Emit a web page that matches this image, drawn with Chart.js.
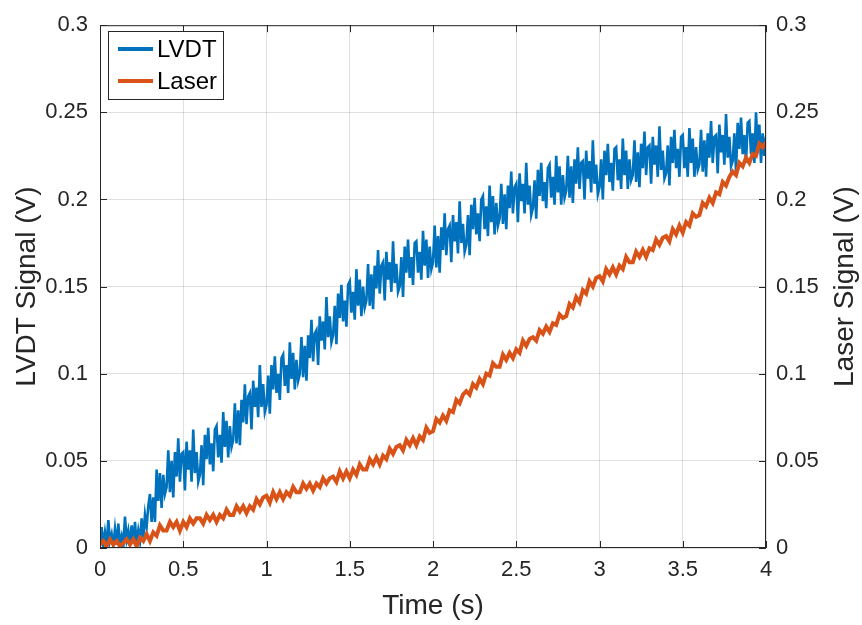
<!DOCTYPE html>
<html><head><meta charset="utf-8">
<script src="https://cdn.jsdelivr.net/npm/chart.js@4.4.0/dist/chart.umd.min.js"></script>
<style>html,body{margin:0;padding:0;background:#fff;overflow:hidden}#wrap{width:862px;height:625px}</style>
</head><body><div id="wrap"><canvas id="c" width="862" height="625"></canvas></div>
<script>
const seriesNames = ['LVDT', 'Laser'];
const xTickLabels = ['0','0.5','1','1.5','2','2.5','3','3.5','4'];
const yTickLabels = ['0','0.05','0.1','0.15','0.2','0.25','0.3'];
const xTitle = 'Time (s)';
const yLeftTitle = 'LVDT Signal (V)';
const yRightTitle = 'Laser Signal (V)';
const lvdtStep = 0.01;   // seconds between LVDT samples
const laserStep = 0.02;  // seconds between Laser samples

// LVDT signal (V), one row per 0.1 s
const lvdtSignal = [
0.003,0.012,0.001,0.009,0.002,0.016,0.004,0.008,0.001,0.011,
0.002,0.014,0.003,0.007,0.001,0.018,0.005,0.010,0.002,0.013,
0.003,0.015,0.002,0.010,0.004,0.017,0.006,0.019,0.012,0.024,
0.031,0.015,0.029,0.015,0.045,0.027,0.043,0.023,0.042,0.031,
0.035,0.056,0.032,0.050,0.029,0.055,0.041,0.063,0.038,0.054,
0.055,0.033,0.061,0.045,0.056,0.038,0.068,0.043,0.055,0.038,
0.042,0.059,0.036,0.065,0.051,0.069,0.048,0.060,0.044,0.068,
0.070,0.052,0.065,0.049,0.078,0.058,0.073,0.052,0.070,0.058,
0.062,0.083,0.060,0.079,0.059,0.085,0.072,0.094,0.071,0.087,
0.089,0.068,0.096,0.081,0.092,0.075,0.105,0.081,0.094,0.078,
0.082,0.099,0.077,0.105,0.091,0.110,0.089,0.100,0.085,0.109,
0.111,0.093,0.105,0.089,0.118,0.097,0.112,0.091,0.108,0.096,
0.100,0.121,0.098,0.116,0.096,0.122,0.109,0.131,0.107,0.123,
0.125,0.105,0.133,0.119,0.130,0.114,0.144,0.121,0.133,0.118,
0.122,0.139,0.117,0.146,0.132,0.151,0.130,0.142,0.127,0.151,
0.153,0.135,0.147,0.131,0.160,0.139,0.154,0.133,0.150,0.138,
0.142,0.163,0.139,0.157,0.137,0.162,0.149,0.171,0.146,0.162,
0.164,0.142,0.170,0.154,0.164,0.147,0.176,0.152,0.163,0.147,
0.150,0.167,0.144,0.173,0.158,0.177,0.155,0.167,0.151,0.175,
0.176,0.158,0.170,0.154,0.182,0.162,0.177,0.155,0.173,0.160,
0.164,0.185,0.161,0.179,0.158,0.184,0.171,0.192,0.168,0.183,
0.185,0.164,0.191,0.176,0.187,0.169,0.199,0.175,0.186,0.170,
0.174,0.191,0.168,0.197,0.183,0.201,0.180,0.192,0.176,0.200,
0.202,0.183,0.196,0.179,0.208,0.187,0.202,0.180,0.198,0.185,
0.189,0.209,0.186,0.203,0.183,0.208,0.195,0.216,0.192,0.207,
0.209,0.187,0.215,0.199,0.209,0.192,0.221,0.197,0.208,0.191,
0.195,0.211,0.189,0.217,0.202,0.221,0.199,0.210,0.195,0.218,
0.220,0.201,0.213,0.197,0.225,0.204,0.219,0.197,0.214,0.201,
0.205,0.225,0.201,0.219,0.198,0.223,0.209,0.230,0.206,0.221,
0.222,0.200,0.228,0.212,0.222,0.204,0.234,0.209,0.220,0.203,
0.207,0.223,0.200,0.228,0.214,0.232,0.210,0.221,0.205,0.229,
0.230,0.211,0.223,0.206,0.235,0.214,0.228,0.206,0.223,0.211,
0.214,0.234,0.210,0.227,0.207,0.232,0.218,0.239,0.214,0.230,
0.231,0.209,0.236,0.220,0.231,0.213,0.242,0.217,0.228,0.212,
0.215,0.231,0.208,0.236,0.221,0.240,0.218,0.229,0.213,0.236,
0.237,0.218,0.230,0.213,0.241,0.221,0.235,0.213,0.230,0.217,
0.220,0.240,0.216,0.234,0.213,0.238,0.224,0.245,0.221,0.236,
0.237,0.215,0.243,0.227,0.237,0.220,0.249,0.224,0.236,0.219,
0.222,0.238,0.216,0.244,0.229,0.247,0.226,0.237,0.221,0.244,
0.245,0.226,0.238,0.221,0.250,0.229,0.243,0.221,0.238,0.225,
0.236
];

// Laser signal (V), one row per 0.2 s
const laserSignal = [
0.002,0.004,0.001,0.005,0.002,0.004,0.001,0.003,0.005,0.002,
0.005,0.001,0.006,0.004,0.008,0.004,0.009,0.007,0.013,0.010,
0.010,0.015,0.012,0.015,0.010,0.015,0.012,0.017,0.014,0.017,
0.017,0.014,0.019,0.016,0.019,0.015,0.019,0.017,0.022,0.019,
0.019,0.024,0.021,0.024,0.020,0.024,0.022,0.028,0.025,0.029,
0.030,0.026,0.032,0.028,0.032,0.028,0.032,0.030,0.035,0.032,
0.032,0.037,0.034,0.037,0.033,0.037,0.035,0.040,0.037,0.040,
0.041,0.038,0.044,0.040,0.044,0.040,0.045,0.042,0.048,0.045,
0.045,0.051,0.048,0.052,0.048,0.053,0.051,0.057,0.054,0.058,
0.059,0.056,0.062,0.059,0.063,0.059,0.064,0.062,0.069,0.066,
0.067,0.074,0.072,0.076,0.073,0.079,0.078,0.085,0.083,0.088,
0.090,0.088,0.094,0.092,0.097,0.094,0.100,0.099,0.106,0.104,
0.104,0.111,0.108,0.112,0.109,0.114,0.112,0.119,0.116,0.120,
0.121,0.119,0.125,0.123,0.127,0.124,0.129,0.128,0.134,0.132,
0.133,0.140,0.138,0.144,0.141,0.148,0.146,0.153,0.150,0.155,
0.156,0.153,0.160,0.157,0.161,0.157,0.162,0.160,0.167,0.164,
0.164,0.170,0.167,0.171,0.167,0.172,0.171,0.177,0.174,0.178,
0.179,0.176,0.183,0.180,0.185,0.181,0.187,0.185,0.192,0.190,
0.191,0.198,0.196,0.201,0.198,0.204,0.203,0.210,0.208,0.213,
0.216,0.214,0.221,0.219,0.224,0.221,0.226,0.225,0.232,0.230,
0.233
];

const FONT = '"Liberation Sans", Arial, Helvetica, sans-serif';
const TEXT = '#262626';
const AXIS = '#262626';
const GRID = 'rgba(38,38,38,0.15)';
const BLUE = '#0072BD';
const ORANGE = '#D95319';

const lvdtPoints = lvdtSignal.map((v, i) => ({ x: +(i * lvdtStep).toFixed(2), y: v }));
const laserPoints = laserSignal.map((v, i) => ({ x: +(i * laserStep).toFixed(2), y: v }));

const tickFont = { family: FONT, size: 22 };
const titleFont = { family: FONT, size: 28 };

const framePlugin = {
  id: 'frame',
  afterDraw(chart) {
    const { ctx, chartArea: { left, right, top, bottom }, scales } = chart;
    ctx.save();
    ctx.strokeStyle = AXIS;
    ctx.lineWidth = 1;
    ctx.strokeRect(left + 0.5, top + 0.5, right - left - 1, bottom - top - 1);
    const L = 7;
    ctx.beginPath();
    scales.x.ticks.forEach(t => {
      const px = Math.round(scales.x.getPixelForValue(t.value)) + 0.5;
      ctx.moveTo(px, bottom); ctx.lineTo(px, bottom - L);
      ctx.moveTo(px, top); ctx.lineTo(px, top + L);
    });
    scales.y.ticks.forEach(t => {
      const py = Math.round(scales.y.getPixelForValue(t.value)) + 0.5;
      ctx.moveTo(left, py); ctx.lineTo(left + L, py);
    });
    scales.y1.ticks.forEach(t => {
      const py = Math.round(scales.y1.getPixelForValue(t.value)) + 0.5;
      ctx.moveTo(right, py); ctx.lineTo(right - L, py);
    });
    ctx.stroke();

    // right axis title (reads bottom-to-top)
    ctx.save();
    ctx.translate(845, (top + bottom) / 2);
    ctx.rotate(-Math.PI / 2);
    ctx.font = `${titleFont.size}px ${FONT}`;
    ctx.fillStyle = TEXT;
    ctx.textAlign = 'center';
    ctx.textBaseline = 'middle';
    ctx.fillText(yRightTitle, 0, 0);
    ctx.restore();

    // legend box
    const bx = 108, by = 31, bw = 115, bh = 68;
    ctx.fillStyle = '#ffffff';
    ctx.fillRect(bx, by, bw, bh);
    ctx.strokeStyle = AXIS;
    ctx.lineWidth = 1;
    ctx.strokeRect(bx + 0.5, by + 0.5, bw, bh);
    ctx.font = `24px ${FONT}`;
    ctx.textAlign = 'left';
    ctx.textBaseline = 'middle';
    chart.data.datasets.forEach((ds, i) => {
      const ly = by + 18 + i * 32;
      ctx.strokeStyle = ds.borderColor;
      ctx.lineWidth = 4;
      ctx.beginPath();
      ctx.moveTo(bx + 10, ly); ctx.lineTo(bx + 45, ly);
      ctx.stroke();
      ctx.fillStyle = '#000';
      ctx.fillText(ds.label, bx + 49, ly + 1);
    });
    ctx.restore();
  }
};

new Chart(document.getElementById('c'), {
  type: 'line',
  data: {
    datasets: [
      { label: seriesNames[0], data: lvdtPoints, yAxisID: 'y', borderColor: BLUE, borderWidth: 2.6, pointRadius: 0, tension: 0, borderJoinStyle: 'miter', order: 1 },
      { label: seriesNames[1], data: laserPoints, yAxisID: 'y1', borderColor: ORANGE, borderWidth: 4, pointRadius: 0, tension: 0, order: 0 }
    ]
  },
  options: {
    responsive: false,
    animation: false,
    devicePixelRatio: 1,
    layout: { padding: { top: 16, left: 0, right: 0, bottom: 0 } },
    plugins: { legend: { display: false }, tooltip: { enabled: false } },
    scales: {
      x: {
        type: 'linear', min: 0, max: 4,
        afterBuildTicks: s => { s.ticks = xTickLabels.map(l => ({ value: parseFloat(l) })); },
        afterFit: s => { s.height = 77; },
        ticks: { callback: (v, i) => xTickLabels[i], font: tickFont, color: TEXT, padding: 9, maxRotation: 0, autoSkip: false },
        grid: { color: GRID, drawTicks: false },
        border: { display: false },
        title: { display: true, text: xTitle, font: titleFont, color: TEXT, padding: { top: 0, bottom: 2 } }
      },
      y: {
        type: 'linear', position: 'left', min: 0, max: 0.3,
        afterBuildTicks: s => { s.ticks = yTickLabels.map(l => ({ value: parseFloat(l) })); },
        afterFit: s => { s.width = 100; },
        ticks: { callback: (v, i) => yTickLabels[i], font: tickFont, color: TEXT, padding: 12, autoSkip: false },
        grid: { color: GRID, drawTicks: false },
        border: { display: false },
        title: { display: true, text: yLeftTitle, font: titleFont, color: TEXT, padding: { top: 10, bottom: 0 } }
      },
      y1: {
        type: 'linear', position: 'right', min: 0, max: 0.3,
        afterBuildTicks: s => { s.ticks = yTickLabels.map(l => ({ value: parseFloat(l) })); },
        afterFit: s => { s.width = 96; },
        ticks: { callback: (v, i) => yTickLabels[i], font: tickFont, color: TEXT, padding: 10, autoSkip: false },
        grid: { display: false, drawTicks: false },
        border: { display: false },
        title: { display: false }
      }
    }
  },
  plugins: [framePlugin]
});
</script>
</body></html>
